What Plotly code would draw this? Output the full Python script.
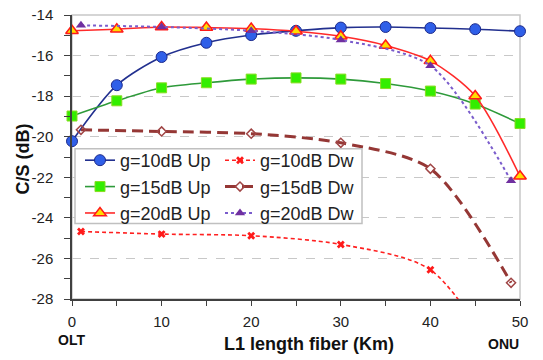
import plotly.graph_objects as go

# ---------------- data ----------------
x_up = [0, 5, 10, 15, 20, 25, 30, 35, 40, 45, 50]
x_dw = [1, 10, 20, 30, 40, 49]

g10_up = [-20.22, -17.46, -16.07, -15.37, -14.99, -14.78, -14.62, -14.59, -14.64, -14.70, -14.80]
g15_up = [-18.98, -18.23, -17.59, -17.34, -17.16, -17.10, -17.16, -17.38, -17.75, -18.39, -19.35]
g20_up = [-14.78, -14.70, -14.59, -14.62, -14.67, -14.80, -15.05, -15.50, -16.26, -17.99, -21.95]

g10_dw = [-24.67, -24.80, -24.88, -25.31, -26.56, -32.0]
g15_dw = [-19.66, -19.74, -19.85, -20.30, -21.58, -27.20]
g20_dw = [-14.51, -14.59, -14.78, -15.23, -16.50, -22.17]

names_up = ["g=10dB Up", "g=15dB Up", "g=20dB Up"]
names_dw = ["g=10dB Dw", "g=15dB Dw", "g=20dB Dw"]

x_ticks = [0, 10, 20, 30, 40, 50]
y_ticks = [-28, -26, -24, -22, -20, -18, -16, -14]

FONT = "Liberation Sans, Arial, sans-serif"

fig = go.Figure()

# Upstream (solid)
fig.add_trace(go.Scatter(
    x=x_up, y=g10_up, name=names_up[0], legend="legend", mode="lines+markers",
    line=dict(color="#22308f", width=1.6, shape="spline", smoothing=0.8),
    marker=dict(symbol="circle", size=11, color="#2f5fe8", line=dict(color="#1c2a8c", width=1)),
    cliponaxis=False))
fig.add_trace(go.Scatter(
    x=x_up, y=g15_up, name=names_up[1], legend="legend", mode="lines+markers",
    line=dict(color="#2e9a3a", width=1.6, shape="spline", smoothing=0.8),
    marker=dict(symbol="square", size=10, color="#33ee00", line=dict(color="#88dd22", width=1)),
    cliponaxis=False))
fig.add_trace(go.Scatter(
    x=x_up, y=g20_up, name=names_up[2], legend="legend", mode="lines+markers",
    line=dict(color="#ff2a2a", width=1.6, shape="spline", smoothing=0.8),
    marker=dict(symbol="triangle-up", size=11, color="#ffdd00", line=dict(color="#ff1a1a", width=1.5)),
    cliponaxis=False))

# Downstream (dashed)
fig.add_trace(go.Scatter(
    x=x_dw, y=g10_dw, name=names_dw[0], legend="legend2", mode="lines+markers",
    line=dict(color="#ff2020", width=1.6, dash="4px,3px", shape="spline", smoothing=0.8),
    marker=dict(symbol="x", size=7, color="#ff1a1a", line=dict(width=0)),
    cliponaxis=True))
fig.add_trace(go.Scatter(
    x=x_dw, y=g15_dw, name=names_dw[1], legend="legend2", mode="lines+markers",
    line=dict(color="#953735", width=3, dash="11px,6px", shape="spline", smoothing=0.8),
    marker=dict(symbol="diamond-open", size=7, color="#a04545", line=dict(width=1.5)),
    cliponaxis=False))
fig.add_trace(go.Scatter(
    x=x_dw, y=g20_dw, name=names_dw[2], legend="legend2", mode="lines+markers",
    line=dict(color="#7a5ccc", width=2, dash="3px,3px", shape="spline", smoothing=0.8),
    marker=dict(symbol="triangle-up", size=9, color="#7030a0", line=dict(color="#7030a0", width=0)),
    cliponaxis=False))

W, H = 543, 360
L, R, T, B = 72, 23, 6, 61
pw, ph = W - L - R, H - T - B

def px(xp):
    return (xp - L) / pw

def py(yp):
    return (H - B - yp) / ph

legend_common = dict(
    font=dict(family=FONT, size=18, color="#222222"),
    bgcolor="rgba(0,0,0,0)", borderwidth=0,
    xanchor="left", yanchor="top", orientation="v",
    tracegroupgap=0, itemwidth=30,
)

fig.update_layout(
    width=W, height=H,
    margin=dict(l=L, r=R, t=T, b=B),
    paper_bgcolor="white", plot_bgcolor="white",
    font=dict(family=FONT, size=15, color="#222222"),
    showlegend=True,
    legend=dict(x=px(80), y=py(137), **legend_common),
    legend2=dict(x=px(220), y=py(137), **legend_common),
    xaxis=dict(
        range=[0, 50], tickvals=x_ticks, ticktext=[str(v) for v in x_ticks],
        ticks="outside", ticklen=5, tickwidth=1.2, tickcolor="#404040",
        minor=dict(dtick=5, ticks="outside", ticklen=5, tickwidth=1.2, tickcolor="#404040"),
        showline=True, linecolor="#404040", linewidth=1.5,
        showgrid=False, zeroline=False, ticklabelstandoff=3,
        ticklabeloverflow="allow",
        tickfont=dict(family=FONT, size=15, color="#222222"),
    ),
    yaxis=dict(
        range=[-28, -14], tickvals=y_ticks, ticktext=[str(v) for v in y_ticks],
        ticks="outside", ticklen=6, tickwidth=1.2, tickcolor="#404040",
        minor=dict(dtick=1, ticks="outside", ticklen=6, tickwidth=1.2, tickcolor="#404040", showgrid=False),
        showline=True, linecolor="#404040", linewidth=1.5,
        showgrid=True, gridcolor="#c8c8c8", griddash="dash", gridwidth=1,
        zeroline=False, ticklabelstandoff=8,
        ticklabeloverflow="allow",
        tickfont=dict(family=FONT, size=15, color="#222222"),
    ),
    shapes=[
        dict(type="rect", xref="paper", yref="paper", x0=0, x1=1, y0=0, y1=1,
             line=dict(color="#c8c8c8", width=1.5), layer="below"),
        dict(type="rect", xref="paper", yref="paper",
             x0=px(75), x1=px(362), y0=py(221), y1=py(144),
             line=dict(color="#c0c0c0", width=1.5), fillcolor="white", layer="above"),
    ],
    annotations=[
        dict(text="<b>C/S (dB)</b>", xref="paper", yref="paper", x=px(23), y=py(155),
             textangle=-90, showarrow=False, font=dict(family=FONT, size=18, color="#111111"),
             xanchor="center", yanchor="middle"),
        dict(text="<b>L1 length fiber (Km)</b>", xref="paper", yref="paper", x=px(309), y=py(345),
             showarrow=False, font=dict(family=FONT, size=18, color="#111111"),
             xanchor="center", yanchor="middle"),
        dict(text="<b>OLT</b>", xref="paper", yref="paper", x=px(71), y=py(341),
             showarrow=False, font=dict(family=FONT, size=14, color="#111111"),
             xanchor="center", yanchor="middle"),
        dict(text="<b>ONU</b>", xref="paper", yref="paper", x=px(503), y=py(345),
             showarrow=False, font=dict(family=FONT, size=14, color="#111111"),
             xanchor="center", yanchor="middle"),
    ],
)

fig.write_html(
    "out.html",
    config={"displayModeBar": False},
    post_script="document.body.style.margin='0px';document.body.style.padding='0px';",
)
